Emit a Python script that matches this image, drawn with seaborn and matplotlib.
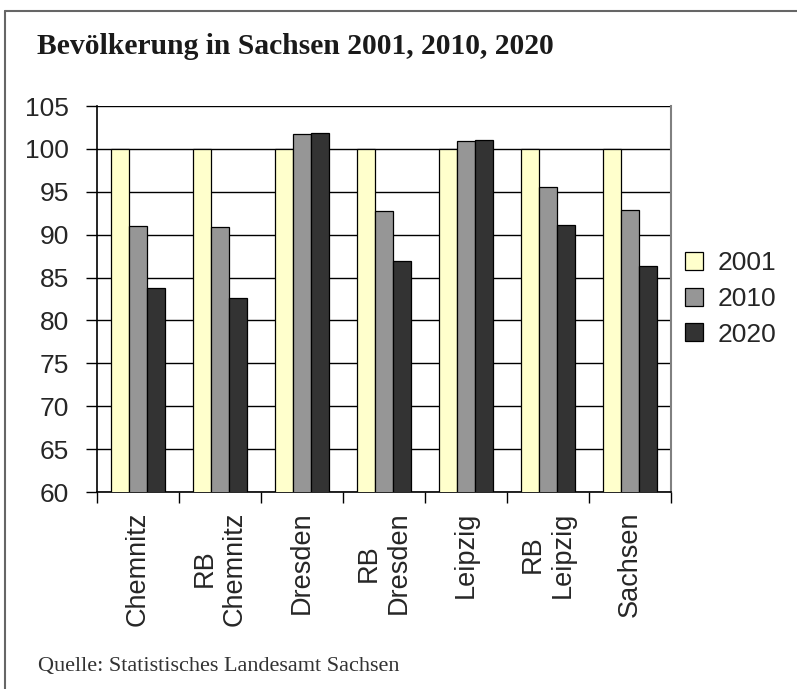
import matplotlib
matplotlib.use("Agg")
import matplotlib.pyplot as plt
from matplotlib.lines import Line2D
from matplotlib.ticker import FixedLocator, MultipleLocator
import pandas as pd
import seaborn as sns

# Population index (2001 = 100) for Saxony and its regions
regions = ["Chemnitz", "RB\nChemnitz", "Dresden", "RB\nDresden",
           "Leipzig", "RB\nLeipzig", "Sachsen"]
years = ["2001", "2010", "2020"]
values_2001 = [100, 100, 100, 100, 100, 100, 100]
values_2010 = [91.0, 90.9, 101.7, 92.8, 100.9, 95.6, 92.9]
values_2020 = [83.8, 82.6, 101.9, 86.9, 101.0, 91.1, 86.4]
colors = ["#FFFFCC", "#969696", "#333333"]

df = pd.DataFrame({
    "Region": regions * 3,
    "Jahr": [y for y in years for _ in regions],
    "Index": values_2001 + values_2010 + values_2020,
})

sns.set_theme(style="white")
plt.rcParams["font.family"] = ["Liberation Sans", "DejaVu Sans"]

fig = plt.figure(figsize=(7.97, 6.89), dpi=100)
ax = fig.add_axes([97 / 797, 1 - 492 / 689, (671 - 97) / 797, (492 - 106) / 689])

sns.barplot(data=df, x="Region", y="Index", hue="Jahr", order=regions,
            hue_order=years, palette=colors, width=0.66, gap=0,
            edgecolor="black", linewidth=0.9, saturation=1,
            errorbar=None, ax=ax, zorder=3)

ax.set_ylim(60, 105)
ax.set_xlim(-0.5, len(regions) - 0.5)
ax.yaxis.set_major_locator(MultipleLocator(5))
ax.grid(axis="y", color="black", linewidth=1.0, zorder=0)
ax.set_axisbelow(True)
ax.set_xlabel("")
ax.set_ylabel("")

# category labels centred under groups, tick marks between groups
ax.set_xticks(range(len(regions)))
ax.set_xticklabels(regions, rotation=90, ha="center", va="top",
                   multialignment="center", fontsize=19.5)
ax.xaxis.set_minor_locator(FixedLocator([i - 0.5 for i in range(len(regions) + 1)]))
ax.tick_params(axis="x", which="major", length=0, pad=14)
ax.tick_params(axis="x", which="minor", length=8, width=1.0, color="black",
               bottom=True, direction="out")
ax.tick_params(axis="y", which="major", length=8, width=1.0, color="black",
               left=True, direction="out", labelsize=19, pad=12)

for side in ["left", "bottom"]:
    ax.spines[side].set_color("black")
    ax.spines[side].set_linewidth(1.2)
ax.spines["top"].set_visible(False)
ax.spines["right"].set_color("#808080")
ax.spines["right"].set_linewidth(1.5)

handles, labels = ax.get_legend_handles_labels()
ax.legend(handles, labels, loc="center left", bbox_to_anchor=(1.011, 0.5),
          borderaxespad=0, frameon=False, fontsize=19, handlelength=0.68,
          handleheight=0.68, handletextpad=0.53, labelspacing=0.44,
          borderpad=0.3)

fig.text(37 / 797, 1 - 47 / 689, "Bevölkerung in Sachsen 2001, 2010, 2020",
         family=["Liberation Serif", "DejaVu Serif"], fontweight="bold",
         fontsize=21.3, color="#1a1a1a", va="center", ha="left")
fig.text(38 / 797, 1 - 666 / 689, "Quelle: Statistisches Landesamt Sachsen",
         family=["Liberation Serif", "DejaVu Serif"], fontsize=16,
         color="#333333", va="center", ha="left")

# outer frame (top and left edges)
fig.add_artist(Line2D([4.5 / 797, 1.0], [1 - 11 / 689, 1 - 11 / 689],
                      transform=fig.transFigure, color="#666666", linewidth=1.5))
fig.add_artist(Line2D([4.5 / 797, 4.5 / 797], [0.0, 1 - 11 / 689],
                      transform=fig.transFigure, color="#666666", linewidth=1.5))

fig.savefig("out.png", dpi=100)
